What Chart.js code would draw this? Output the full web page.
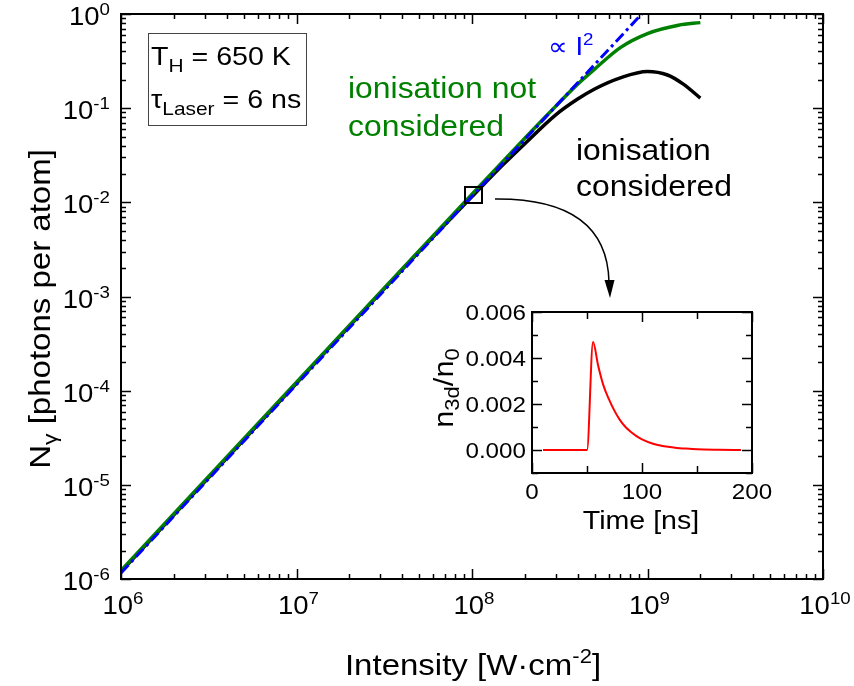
<!DOCTYPE html>
<html><head><meta charset="utf-8">
<script src="https://cdn.jsdelivr.net/npm/chart.js@4.4.0/dist/chart.umd.min.js"></script>
<style>
html,body{margin:0;padding:0;background:#fff;}
#wrap{position:relative;width:854px;height:686px;}
canvas{position:absolute;left:0;top:0;}
</style></head><body>
<div id="wrap"><canvas id="main" width="854" height="686"></canvas><canvas id="inset" width="854" height="686"></canvas></div>
<script>
// ---------- data ----------
const intensityI2 = [1e6, 1e7, 1e8, 9.27e8];
const photonsI2   = [1.16e-6, 1.16e-4, 1.16e-2, 1.0];
const intensityNoIon = [1e6, 1e7, 1e8, 2e8, 3e8, 4e8, 5e8, 7e8, 1e9, 1.5e9, 2e9];
const photonsNoIon   = [1.23e-6, 1.23e-4, 1.22e-2, 4.8e-2, 0.105, 0.18, 0.26, 0.44, 0.62, 0.76, 0.81];
const intensityIon = [1e6, 1e7, 5e7, 1e8, 1.5e8, 2e8, 3e8, 4e8, 5e8, 7e8, 1e9, 1.3e9, 1.6e9, 2e9];
const photonsIon   = [1.2e-6, 1.2e-4, 3.0e-3, 1.15e-2, 0.025, 0.042, 0.085, 0.125, 0.16, 0.21, 0.245, 0.225, 0.18, 0.128];
const timeNs = [10, 50, 55.5, 60, 65, 70, 75, 80, 85, 90, 95, 100, 110, 120, 130, 140, 150, 170, 190];
const n3dOverN0 = [0, 0, 0.0047, 0.0037, 0.0028, 0.0022, 0.0017, 0.0013, 0.001, 0.00078, 0.0006, 0.00046, 0.00027, 0.00016, 0.0001, 0.00006, 0.00003, 0.00001, 0];
const xTickExponents = [6, 7, 8, 9, 10];
const yTickExponents = [-6, -5, -4, -3, -2, -1, 0];
const insetXTicks = [0, 50, 100, 150, 200];
const insetXLabels = ['0', '100', '200'];
const insetYTicks = [-0.001, 0, 0.001, 0.002, 0.003, 0.004, 0.005, 0.006];
const insetYLabels = ['0.000', '0.002', '0.004', '0.006'];

const FONT = "'Liberation Sans', Arial, Helvetica, sans-serif";
const SX = 1.1;

function pts(xs, ys){ return xs.map((v,i)=>({x:v, y:ys[i]})); }
function richWidth(ctx, parts){ let w=0; for(const p of parts){ ctx.font = p.size+'px '+FONT; w += ctx.measureText(p.t).width; } return w*SX; }
function drawRich(ctx, parts, x, y, align, color){
  const w = richWidth(ctx, parts);
  let cx = align==='center' ? x - w/2 : (align==='right' ? x - w : x);
  ctx.save();
  ctx.textBaseline='alphabetic'; ctx.textAlign='left';
  ctx.translate(cx, y); ctx.scale(SX, 1);
  let px = 0;
  for(const p of parts){
    ctx.font = p.size+'px '+FONT;
    ctx.fillStyle = p.color || color || '#000';
    ctx.fillText(p.t, px, p.dy||0);
    px += ctx.measureText(p.t).width;
  }
  ctx.restore();
}
function seg(ctx,x1,y1,x2,y2){ ctx.beginPath(); ctx.moveTo(x1,y1); ctx.lineTo(x2,y2); ctx.stroke(); }

const whiteBg = { id:'whiteBg', beforeDraw(c){ const ctx=c.ctx; ctx.save(); ctx.fillStyle='#fff'; ctx.fillRect(0,0,c.width,c.height); ctx.restore(); } };

const mainDecor = {
  id:'mainDecor',
  afterDraw(chart){
    const {ctx, chartArea:a, scales:{x,y}} = chart;
    ctx.save();
    ctx.strokeStyle='#000'; ctx.lineWidth=1.5;
    for(let i=0;i<xTickExponents.length;i++){
      const e = xTickExponents[i];
      for(let m=1;m<=9;m++){
        if(i===xTickExponents.length-1 && m>1) break;
        const px = Math.round(x.getPixelForValue(m*Math.pow(10,e)))+0.5;
        const L = m===1?10:5;
        seg(ctx,px,a.bottom,px,a.bottom-L);
        seg(ctx,px,a.top,px,a.top+L);
      }
    }
    for(let i=0;i<yTickExponents.length;i++){
      const e = yTickExponents[i];
      for(let m=1;m<=9;m++){
        if(i===yTickExponents.length-1 && m>1) break;
        const py = Math.round(y.getPixelForValue(m*Math.pow(10,e)))+0.5;
        const L = m===1?10:5;
        seg(ctx,a.left,py,a.left+L,py);
        seg(ctx,a.right,py,a.right-L,py);
      }
    }
    ctx.lineWidth=2;
    ctx.strokeRect(a.left, a.top, a.right-a.left, a.bottom-a.top);
    for(const e of xTickExponents){
      const px = x.getPixelForValue(Math.pow(10,e));
      drawRich(ctx, [{t:'10',size:25},{t:String(e),size:17,dy:-10}], px+2, 614, 'center');
    }
    for(const e of yTickExponents){
      const py = y.getPixelForValue(Math.pow(10,e));
      drawRich(ctx, [{t:'10',size:25},{t:String(e),size:17,dy:-10}], 110, py+11, 'right');
    }
    drawRich(ctx, [{t:'Intensity [W\u00B7cm',size:30},{t:'-2',size:20,dy:-12},{t:']',size:30}], 473, 675, 'center');
    ctx.save();
    ctx.translate(50, 309); ctx.rotate(-Math.PI/2);
    drawRich(ctx, [{t:'N',size:30},{t:'\u03B3',size:21,dy:7},{t:' [photons per atom]',size:30}], 0, 0, 'center');
    ctx.restore();
    ctx.lineWidth=1; ctx.strokeStyle='#444';
    ctx.strokeRect(148.5, 33.5, 158, 92);
    drawRich(ctx, [{t:'T',size:26},{t:'H',size:19,dy:7},{t:' = 650 K',size:26}], 151, 65, 'left');
    drawRich(ctx, [{t:'\u03C4',size:26},{t:'Laser',size:19,dy:7},{t:' = 6 ns',size:26}], 151, 108, 'left');
    drawRich(ctx, [{t:'ionisation not',size:29}], 348, 98, 'left', '#008000');
    drawRich(ctx, [{t:'considered',size:29}], 348, 136, 'left', '#008000');
    drawRich(ctx, [{t:'ionisation',size:29}], 576, 160, 'left', '#000');
    drawRich(ctx, [{t:'considered',size:29}], 576, 196, 'left', '#000');
    drawRich(ctx, [{t:'\u221D I',size:25},{t:'2',size:17,dy:-10}], 548, 55, 'left', '#0000ff');
    ctx.strokeStyle='#000'; ctx.lineWidth=2;
    ctx.strokeRect(465, 187, 17, 16);
    ctx.lineWidth=1.5;
    ctx.beginPath(); ctx.moveTo(495,199); ctx.quadraticCurveTo(607,198,609,282); ctx.stroke();
    ctx.fillStyle='#000';
    ctx.beginPath(); ctx.moveTo(604.5,280); ctx.lineTo(614.5,280); ctx.lineTo(610,298); ctx.closePath(); ctx.fill();
    ctx.restore();
  }
};

new Chart(document.getElementById('main'), {
  type:'line',
  data:{ datasets:[
    { label:'\u221D I\u00B2', data: pts(intensityI2, photonsI2), borderColor:'#0000ff', borderWidth:3, borderDash:[11,4,3,4], pointRadius:0, fill:false, tension:0 },
    { label:'ionisation not considered', data: pts(intensityNoIon, photonsNoIon), borderColor:'#008000', borderWidth:3.5, pointRadius:0, fill:false, cubicInterpolationMode:'monotone' },
    { label:'ionisation considered', data: pts(intensityIon, photonsIon), borderColor:'#000000', borderWidth:3.5, pointRadius:0, fill:false, cubicInterpolationMode:'monotone' }
  ]},
  options:{
    responsive:false, animation:false, devicePixelRatio:1,
    layout:{ padding:{ left:0, right:31, top:14, bottom:0 } },
    plugins:{ legend:{display:false}, tooltip:{enabled:false} },
    scales:{
      x:{ type:'logarithmic', min:1e6, max:1e10, afterFit(s){ s.height=107; }, ticks:{display:false}, grid:{display:false}, border:{display:false} },
      y:{ type:'logarithmic', min:1e-6, max:1, afterFit(s){ s.width=121; }, ticks:{display:false}, grid:{display:false}, border:{display:false} }
    }
  },
  plugins:[whiteBg, mainDecor]
});

const insetDecor = {
  id:'insetDecor',
  afterDraw(chart){
    const {ctx, chartArea:a, scales:{x,y}} = chart;
    ctx.save();
    ctx.strokeStyle='#000'; ctx.lineWidth=1.5;
    for(const v of insetXTicks){
      const px = Math.round(x.getPixelForValue(v))+0.5;
      const L = (v%100===0)?10:7;
      seg(ctx,px,a.bottom,px,a.bottom-L);
      seg(ctx,px,a.top,px,a.top+L);
    }
    for(const v of insetYTicks){
      const py = Math.round(y.getPixelForValue(v))+0.5;
      const L = (Math.round(v*1000)%2===0)?10:6;
      seg(ctx,a.left,py,a.left+L,py);
      seg(ctx,a.right,py,a.right-L,py);
    }
    ctx.lineWidth=2;
    ctx.strokeRect(a.left, a.top, a.right-a.left, a.bottom-a.top);
    for(const s of insetXLabels){
      drawRich(ctx, [{t:s,size:22}], x.getPixelForValue(Number(s)), 499, 'center');
    }
    for(const s of insetYLabels){
      drawRich(ctx, [{t:s,size:22}], 526, y.getPixelForValue(Number(s))+8, 'right');
    }
    drawRich(ctx, [{t:'Time [ns]',size:26}], 641, 529, 'center');
    ctx.save();
    ctx.translate(453, 388); ctx.rotate(-Math.PI/2);
    drawRich(ctx, [{t:'n',size:28},{t:'3d',size:20,dy:6},{t:'/n',size:28},{t:'0',size:20,dy:6}], 0, 0, 'center');
    ctx.restore();
    ctx.restore();
  }
};

new Chart(document.getElementById('inset'), {
  type:'line',
  data:{ datasets:[
    { label:'n3d/n0', data: pts(timeNs, n3dOverN0), borderColor:'#ff0000', borderWidth:2, pointRadius:0, fill:false, cubicInterpolationMode:'monotone' }
  ]},
  options:{
    responsive:false, animation:false, devicePixelRatio:1,
    layout:{ padding:{ left:0, right:102, top:312, bottom:0 } },
    plugins:{ legend:{display:false}, tooltip:{enabled:false} },
    scales:{
      x:{ type:'linear', min:0, max:200, afterFit(s){ s.height=213; }, ticks:{display:false}, grid:{display:false}, border:{display:false} },
      y:{ type:'linear', min:-0.001, max:0.006, afterFit(s){ s.width=532; }, ticks:{display:false}, grid:{display:false}, border:{display:false} }
    }
  },
  plugins:[insetDecor]
});
</script>
</body></html>
